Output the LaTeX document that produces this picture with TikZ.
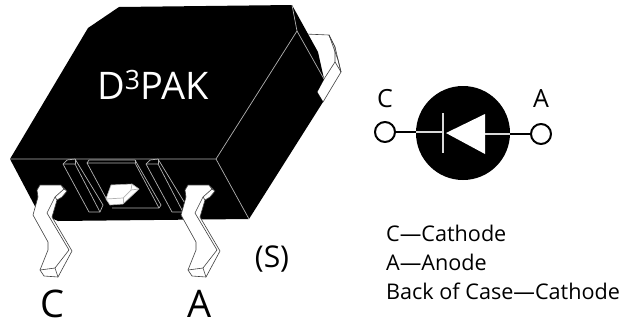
\documentclass[tikz,border=0pt]{standalone}
\usepackage{fontspec}
\setmainfont{Open Sans}
\tikzset{
  edge/.style={draw=black!30,line width=.7pt},
  leadline/.style={draw=black!75,line width=.6pt,fill=white,line join=round},
  wire/.style={line width=1.8pt},
  lightwire/.style={line width=2.4pt,draw=black!15},
  pin/.style={circle,draw,line width=2pt,fill=white,minimum size=20pt,inner sep=0pt},
  bigtext/.style={font=\fontsize{38}{38}\selectfont,inner sep=0pt,anchor=base},
  midtext/.style={font=\fontsize{30}{30}\selectfont,inner sep=0pt,anchor=base},
  symtext/.style={font=\fontsize{25}{25}\selectfont,inner sep=0pt,anchor=base},
  legendtext/.style={font=\fontsize{21.6}{21.6}\selectfont,inner sep=0pt,anchor=base west}
}
\begin{document}
\begin{tikzpicture}[x=1pt,y=-1pt,line join=round]
\useasboundingbox (0,0) rectangle (621,322);
% tab at the back
\draw[leadline](305,34)--(329,35)--(335,47)--(341,72)--(323,102)--(317,92)--(324,79)--cycle;
\draw[leadline,fill=none](329,35)--(335,47)--(335,62)--(341,72);
\draw[leadline,fill=none](329,35)--(338,60)--(341,72);
\draw[leadline,fill=none](335,62)--(324,79);
% body
\fill(88,28)--(119,7)--(292,5)--(318,52)--(324,79)--(317,92)--(323,102)--(249,219)--(58,221)--(38,212)--(10,159)--cycle;
\draw[edge](10,159)--(216,159)--(297,31)--(292,5);
\draw[edge](297,31)--(324,79);
\draw[edge](216,159)--(249,219);
% slots
\foreach \dx in {0,83}{
\begin{scope}[xshift=\dx pt]
\draw[edge](63,164)--(67,160)--(75,159)--(103,205)--(100,212)--(89,212)--cycle;
\draw[edge](63,164)--(75,164)--(100,212);
\draw[edge](75,159)--(75,164);
\end{scope}}
\draw[edge](87,163)--(89,160)--(135,160)--(161,205)--(159,208)--(112,208);
\draw[edge](107,200)--(87,163)--(135,163)--(159,208);
\draw[edge](135,160)--(135,163);
% centre block
\draw[leadline,draw=black!30](106,199)--(111,185)--(132,184)--(139,189)--(123,204)--(110,205)--cycle;
\draw[edge](106,199)--(123,198)--(131,190)--(132,184);
\draw[edge](131,190)--(139,189);
\draw[edge](123,198)--(123,204);
% leads
\foreach \dx in {0,148}{
\begin{scope}[xshift=\dx pt]
\draw[leadline](40,185)--(61,185)--(67,191)--(62,197)--(57,200)--(52,217)--(72,251)--(58,277)--(44,276)--(40,270)--(48,250)--(48,242)--(33,215)--(38,197)--(37,190)--cycle;
\draw[leadline,fill=none](61,185)--(64,189)--(55,197)--(57,200);
\draw[leadline,fill=none](64,189)--(67,191);
\draw[leadline,fill=none](55,197)--(47,213)--(69,250)--(55,268)--(58,277);
\draw[leadline,fill=none](40,270)--(55,268);
\end{scope}}
% labels on the drawing
\node[bigtext,text=white] (pakname) at (153,99) {D\textsuperscript{3}PAK};
\node[bigtext] (leadc) at (52,317.5) {C};
\node[bigtext] (leada) at (200,317.5) {A};
\node[midtext] (tabs) at (272,267) {(S)};
% symbol
\fill (463,133) circle (47);
\node[pin] (pinc) at (385,132) {};
\node[pin] (pina) at (541,134) {};
\coordinate (cirl) at (416,132);
\coordinate (cirr) at (510,134);
\coordinate (barm) at (443,132);
\coordinate (trir) at (485,134);
\draw[wire](pinc)--(cirl);
\draw[wire](pina)--(cirr);
\draw[lightwire](cirl)--(barm);
\draw[lightwire](cirr)--(trir);
\draw[lightwire](443,113)--(443,153);
\fill[white](485,114)--(485,154)--(446,133)--cycle;
\node[symtext] (symc) at (385,107) {C};
\node[symtext] (syma) at (541,107) {A};
% legend
\node[legendtext] (legc) at (386,241) {C—Cathode};
\node[legendtext] (lega) at (386,270) {A—Anode};
\node[legendtext] (legb) at (386,299) {Back of Case—Cathode};
\end{tikzpicture}
\end{document}
